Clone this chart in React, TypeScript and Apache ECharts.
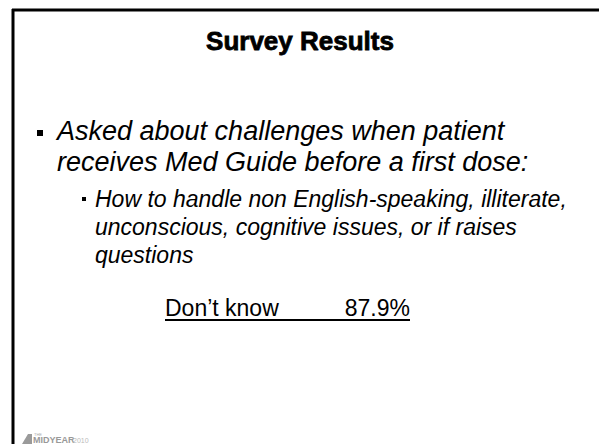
import React, { useEffect, useRef } from "react";
import * as echarts from "echarts";

const titleText = "Survey Results";
const bulletLines = ["Asked about challenges when patient", "receives Med Guide before a first dose:"];
const subBulletLines = [
  "How to handle non English-speaking, illiterate,",
  "unconscious, cognitive issues, or if raises",
  "questions",
];
const resultLabels = ["Don\u2019t know"];
const resultValues = ["87.9%"];
const logoWords = ["MIDYEAR", "2010", "THE"];

const FONT = "'Liberation Sans', Arial, sans-serif";

export default function App() {
  const ref = useRef<HTMLDivElement>(null);
  useEffect(() => {
    document.body.style.margin = "0";
    const chart = echarts.init(ref.current!, null, { renderer: "svg" });
    const graphic: any[] = [];
    // frame
    graphic.push({ type: "line", shape: { x1: 12, y1: 10, x2: 599, y2: 10 }, style: { stroke: "#000", lineWidth: 3 } });
    graphic.push({ type: "line", shape: { x1: 13, y1: 9, x2: 13, y2: 444 }, style: { stroke: "#000", lineWidth: 3 } });
    // title
    graphic.push({
      type: "text", x: 300, y: 41,
      style: { text: titleText, font: `bold 26px ${FONT}`, fill: "#000", stroke: "#000", lineWidth: 0.8, align: "center", verticalAlign: "middle" },
    });
    // bullet level 1
    graphic.push({ type: "rect", shape: { x: 37, y: 130, width: 6, height: 6 }, style: { fill: "#000" } });
    bulletLines.forEach((t, i) => {
      graphic.push({
        type: "text", x: 57, y: 131 + i * 31,
        style: { text: t, font: `italic 27px ${FONT}`, fill: "#000", align: "left", verticalAlign: "middle" },
      });
    });
    // sub bullet
    graphic.push({ type: "rect", shape: { x: 82, y: 197, width: 4, height: 4 }, style: { fill: "#000" } });
    subBulletLines.forEach((t, i) => {
      graphic.push({
        type: "text", x: 95, y: 199 + i * 28,
        style: { text: t, font: `italic 23px ${FONT}`, fill: "#000", align: "left", verticalAlign: "middle" },
      });
    });
    // result
    graphic.push({
      type: "text", x: 165, y: 308,
      style: { text: resultLabels[0], font: `23px ${FONT}`, fill: "#000", align: "left", verticalAlign: "middle" },
    });
    graphic.push({
      type: "text", x: 410, y: 308,
      style: { text: resultValues[0], font: `23px ${FONT}`, fill: "#000", align: "right", verticalAlign: "middle" },
    });
    graphic.push({ type: "line", shape: { x1: 165, y1: 320, x2: 410, y2: 320 }, style: { stroke: "#000", lineWidth: 2 } });
    // logo
    graphic.push({ type: "polygon", shape: { points: [[22, 444], [28, 434], [32, 434], [32, 444]] }, style: { fill: "#9a9a9a" } });
    graphic.push({
      type: "text", x: 34, y: 434,
      style: { text: logoWords[2], font: `4px ${FONT}`, fill: "#aaa", align: "left", verticalAlign: "middle" },
    });
    graphic.push({
      type: "text", x: 33, y: 440,
      style: { text: logoWords[0], font: `bold 9px ${FONT}`, fill: "#999", align: "left", verticalAlign: "middle" },
    });
    graphic.push({
      type: "text", x: 73, y: 440,
      style: { text: logoWords[1], font: `7px ${FONT}`, fill: "#bbb", align: "left", verticalAlign: "middle" },
    });
    chart.setOption({ animation: false, backgroundColor: "#fff", graphic });
    return () => chart.dispose();
  }, []);
  return <div ref={ref} style={{ width: 599, height: 444 }} />;
}
